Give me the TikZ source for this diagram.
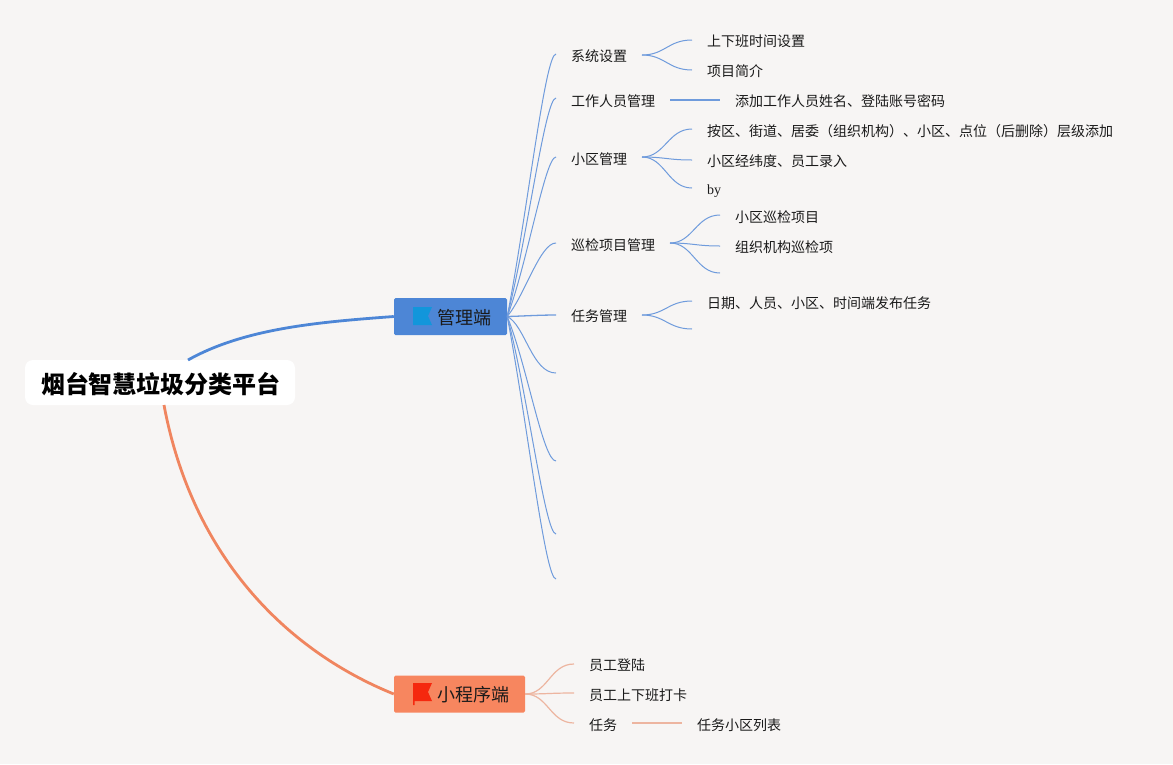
\documentclass[tikz,border=0pt]{standalone}
\usepackage{fontspec}
\setmainfont{Noto Sans CJK SC}
\newfontfamily\latinserif{Liberation Serif}
\definecolor{bgc}{HTML}{F7F5F4}
\definecolor{bluebox}{HTML}{4D86D6}
\definecolor{orangebox}{HTML}{F7865F}
\definecolor{bluemain}{HTML}{4D86D6}
\definecolor{orangemain}{HTML}{F0855F}
\definecolor{bluebranch}{HTML}{6F9BDC}
\definecolor{orangebranch}{HTML}{EDB5A0}
\definecolor{flagblue}{HTML}{1296DB}
\definecolor{flagred}{HTML}{F5280E}
\definecolor{textc}{HTML}{1A1A1A}
\tikzset{
  x=1pt,y=-1pt,
  rootbox/.style={fill=white,rounded corners=8pt,minimum width=270pt,minimum height=45pt,inner sep=0pt},
  roottext/.style={inner sep=0pt,font=\fontsize{24}{28}\selectfont\bfseries,text=black},
  mainbox/.style={rounded corners=1.5pt,inner sep=0pt,minimum height=37pt},
  maintext/.style={anchor=west,inner sep=0pt,font=\fontsize{18}{22}\selectfont,text=textc},
  lbl/.style={anchor=west,inner sep=0pt,font=\fontsize{14}{17}\selectfont,text=textc},
  mainline/.style={line width=2.8pt},
  bb/.style={draw=bluebranch,line width=1pt},
  bbs/.style={draw=bluebranch,line width=1.3pt},
  ob/.style={draw=orangebranch,line width=1.2pt},
}
\begin{document}
\begin{tikzpicture}
\useasboundingbox (0,0) rectangle (1173,764);
\fill[bgc] (0,0) rectangle (1173,764);
% main curves
\coordinate (rb) at (188,360);
\coordinate (ro) at (164,405);
\node[mainbox,fill=bluebox,minimum width=113pt] (mgr) at (450.5,316.5) {};
\node[mainbox,fill=orangebox,minimum width=131pt] (app) at (459.5,694) {};
\node[rootbox] (root) at (160,382.5) {};
\node[roottext] (roott) at (161,384) {烟台智慧垃圾分类平台};
\draw[mainline,draw=bluemain] (rb) .. controls (245,328) and (320,322) .. (mgr.west);
\draw[mainline,draw=orangemain] (ro) .. controls (192,555) and (285,650) .. (app.west);
\node[maintext] (mgrt) at (437,318) {管理端};
\node[maintext] (appt) at (437,695) {小程序端};
\fill[flagblue] (413,307) -- (432,307) -- (428,316) -- (432,325) -- (413,325) -- cycle;
\fill[flagred] (413,683) -- (432,683) -- (428,692) -- (432,701) -- (414.5,701) -- (414.5,705) -- (413,705) -- cycle;
% level 2 labels
\node[lbl] (a1) at (571,56) {系统设置};
\node[lbl] (a2) at (571,101) {工作人员管理};
\node[lbl] (a3) at (571,159) {小区管理};
\node[lbl] (a4) at (571,245) {巡检项目管理};
\node[lbl] (a5) at (571,316) {任务管理};
\node[lbl] (b1) at (707,41) {上下班时间设置};
\node[lbl] (b2) at (707,71) {项目简介};
\node[lbl] (b3) at (735,101) {添加工作人员姓名、登陆账号密码};
\node[lbl] (b4) at (707,131) {按区、街道、居委（组织机构）、小区、点位（后删除）层级添加};
\node[lbl] (b5) at (707,161) {小区经纬度、员工录入};
\node[lbl,font=\latinserif\fontsize{14}{17}\selectfont] (b6) at (707,191) {by};
\node[lbl] (b7) at (735,217) {小区巡检项目};
\node[lbl] (b8) at (735,247) {组织机构巡检项};
\node[lbl] (b9) at (707,303) {日期、人员、小区、时间端发布任务};
\node[lbl] (c1) at (589,665) {员工登陆};
\node[lbl] (c2) at (589,695) {员工上下班打卡};
\node[lbl] (c3) at (589,725) {任务};
\node[lbl] (c4) at (697,725) {任务小区列表};
% free ends
\coordinate (e1) at (556,54);
\coordinate (e2) at (556,98);
\coordinate (e3) at (556,157);
\coordinate (e4) at (556,243);
\coordinate (e5) at (556,315);
\coordinate (e6) at (556,373);
\coordinate (e7) at (556,461);
\coordinate (e8) at (556,534);
\coordinate (e9) at (556,579);
% manager branches
\draw[bb] (mgr.east) .. controls (527,215) and (545,54) .. (e1);
\draw[bb] (mgr.east) .. controls (527,240) and (545,98) .. (e2);
\draw[bb] (mgr.east) .. controls (527,265) and (545,157) .. (e3);
\draw[bb] (mgr.east) .. controls (525,295) and (540,243) .. (e4);
\draw[bbs] (mgr.east) .. controls (525,316) and (540,315) .. (e5);
\draw[bb] (mgr.east) .. controls (525,325) and (532,373) .. (e6);
\draw[bb] (mgr.east) .. controls (527,365) and (543,461) .. (e7);
\draw[bb] (mgr.east) .. controls (527,390) and (545,534) .. (e8);
\draw[bb] (mgr.east) .. controls (527,420) and (545,579) .. (e9);
% level 2 hubs
\coordinate (h1) at (642,55);
\coordinate (h1a) at (692,40);
\coordinate (h1b) at (692,70);
\draw[bb] (h1) .. controls (665,55) and (668,40) .. (h1a);
\draw[bb] (h1) .. controls (665,55) and (668,70) .. (h1b);
\coordinate (h2) at (670,100);
\coordinate (h2a) at (720,100);
\draw[bbs] (h2) -- (h2a);
\coordinate (h3) at (642,157);
\coordinate (h3a) at (692,129);
\coordinate (h3b) at (692,160);
\coordinate (h3c) at (692,188);
\draw[bb] (h3) .. controls (665,157) and (668,129) .. (h3a);
\draw[bb] (h3) .. controls (665,157) and (668,160) .. (h3b);
\draw[bb] (h3) .. controls (665,157) and (668,188) .. (h3c);
\coordinate (h4) at (670,243);
\coordinate (h4a) at (720,215);
\coordinate (h4b) at (720,246);
\coordinate (h4c) at (720,273);
\draw[bb] (h4) .. controls (693,243) and (696,215) .. (h4a);
\draw[bb] (h4) .. controls (693,243) and (696,246) .. (h4b);
\draw[bb] (h4) .. controls (693,243) and (696,273) .. (h4c);
\coordinate (h5) at (642,315);
\coordinate (h5a) at (692,301);
\coordinate (h5b) at (692,329);
\draw[bb] (h5) .. controls (665,315) and (668,301) .. (h5a);
\draw[bb] (h5) .. controls (665,315) and (668,329) .. (h5b);
% app branches
\coordinate (k1) at (574,664);
\coordinate (k2) at (574,693);
\coordinate (k3) at (574,723);
\draw[ob] (app.east) .. controls (548,694) and (550,664) .. (k1);
\draw[ob] (app.east) .. controls (548,694) and (550,693) .. (k2);
\draw[ob] (app.east) .. controls (548,694) and (550,723) .. (k3);
\coordinate (k4) at (632,723);
\coordinate (k5) at (682,723);
\draw[ob] (k4) -- (k5);
\end{tikzpicture}
\end{document}
